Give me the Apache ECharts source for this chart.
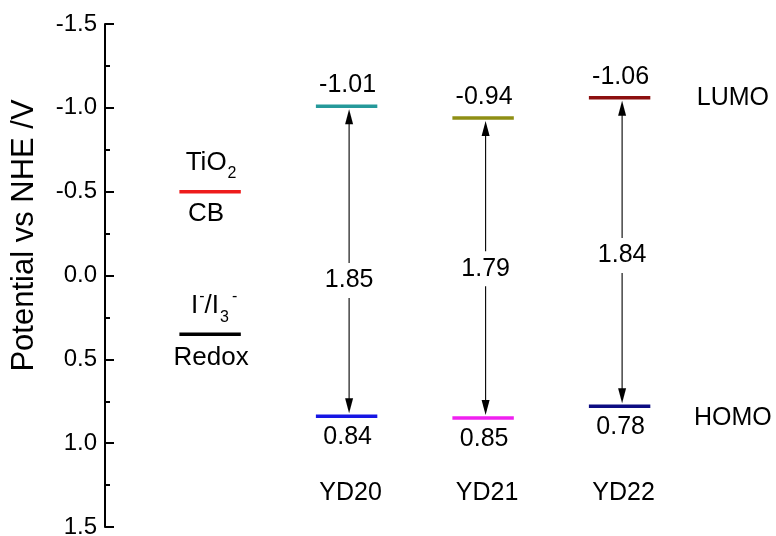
<!DOCTYPE html>
<html>
<head>
<meta charset="utf-8">
<script src="https://cdn.jsdelivr.net/npm/echarts@6/dist/echarts.min.js"></script>
<style>
  html, body { margin: 0; padding: 0; background: #fff; }
  #chart { width: 776px; height: 536px; }
</style>
</head>
<body>
<div id="chart"></div>
<script>
// Energy levels (V vs NHE) of the three dyes
const dyes = ['YD20', 'YD21', 'YD22'];
const lumo = [-1.01, -0.94, -1.06];
const homo = [0.84, 0.85, 0.78];
const gaps = [1.85, 1.79, 1.84];
// Reference levels
const tio2CB = -0.5;
const redox = 0.35;
// Potential axis ticks
const yTicks = [-1.5, -1.0, -0.5, 0.0, 0.5, 1.0, 1.5];

// Styling
const FONT = '"Liberation Sans", Arial, sans-serif';
const lumoColors = ['#25999a', '#8f8f14', '#8c0f0f'];
const homoColors = ['#1616e4', '#f020f0', '#0c0c82'];
const cbColor = '#ee1c1c';
const redoxColor = '#000000';
const HALF = 0.225;            // half length of a level bar, in slot units
const LEVEL_W = 3.5;
// Where each gap value sits along its arrow (potential units)
const gapLabelAt = [0.03, -0.04, -0.12];

const measureCtx = document.createElement('canvas').getContext('2d');
function textWidth(t, size) {
  measureCtx.font = size + 'px ' + FONT;
  return measureCtx.measureText(t).width;
}

// Build a centred run of text with optional sub/superscript pieces
function richRun(parts, cx, cy, base) {
  const small = Math.round(base * 0.6);
  let total = 0;
  const widths = parts.map(p => {
    const w = textWidth(p.t, p.k === 'n' ? base : small) + (p.dx || 0);
    total += w;
    return w;
  });
  let x = cx - total / 2;
  const els = [];
  parts.forEach((p, i) => {
    const size = p.k === 'n' ? base : small;
    let y = cy;
    if (p.k === 'sub') y = cy + base * 0.42;
    if (p.k === 'sup') y = cy - base * 0.38;
    els.push({
      type: 'text',
      x: x + (p.dx || 0), y: y,
      style: { text: p.t, fontSize: size, fontFamily: FONT, fill: '#000',
               align: 'left', verticalAlign: 'middle' }
    });
    x += widths[i];
  });
  return els;
}

function txt(t, x, y, size, extra) {
  return {
    type: 'text', x: x, y: y,
    style: Object.assign({ text: t, fontSize: size, fontFamily: FONT, fill: '#000',
                           align: 'center', verticalAlign: 'middle' }, extra || {})
  };
}

const levelData = [
  { value: [0, tio2CB, 0], itemStyle: { color: cbColor } },
  { value: [0, redox, 0], itemStyle: { color: redoxColor } }
];
dyes.forEach((d, i) => {
  levelData.push({ value: [i + 1, lumo[i], -1], itemStyle: { color: lumoColors[i] } });
  levelData.push({ value: [i + 1, homo[i], 1], itemStyle: { color: homoColors[i] } });
});

const arrowData = dyes.map((d, i) => [i + 1, lumo[i], homo[i], gaps[i], gapLabelAt[i]]);

const chart = echarts.init(document.getElementById('chart'), null, { renderer: 'canvas' });

chart.setOption({
  backgroundColor: '#fff',
  animation: false,
  grid: { left: 105, top: 24, height: 503, width: 682.5, containLabel: false, outerBoundsMode: 'none' },
  xAxis: { type: 'value', min: -0.77, max: 4.23, show: false },
  yAxis: {
    type: 'value',
    inverse: true,
    min: yTicks[0],
    max: yTicks[yTicks.length - 1],
    interval: yTicks[1] - yTicks[0],
    axisLine: { show: true, onZero: false, lineStyle: { color: '#000', width: 2 } },
    axisTick: { show: true, inside: true, length: 9, lineStyle: { color: '#000', width: 2 } },
    minorTick: { show: true, splitNumber: 2, length: 5, lineStyle: { color: '#000', width: 2 } },
    splitLine: { show: false },
    axisLabel: { color: '#000', fontSize: 24, fontFamily: FONT, margin: 8,
                 formatter: v => v.toFixed(1) },
    name: 'Potential vs NHE /V',
    nameLocation: 'middle',
    nameGap: 65,
    nameTextStyle: { color: '#000', fontSize: 31, fontFamily: FONT, padding: [0, 0, 0, 80] }
  },
  series: [
    {
      // horizontal energy levels with their values
      type: 'custom',
      name: 'levels',
      clip: false,
      data: levelData,
      renderItem: function (params, api) {
        const x = api.value(0), y = api.value(1), pos = api.value(2);
        const p1 = api.coord([x - HALF, y]);
        const p2 = api.coord([x + HALF, y]);
        const children = [{
          type: 'line',
          shape: { x1: p1[0], y1: p1[1], x2: p2[0], y2: p2[1] },
          style: { stroke: api.visual('color'), lineWidth: LEVEL_W }
        }];
        if (pos !== 0) {
          const cx = (p1[0] + p2[0]) / 2 + 1;
          children.push(txt(y.toFixed(2), cx, p1[1] + pos * 21, 25));
        }
        return { type: 'group', children: children };
      }
    },
    {
      // double-headed arrows spanning the HOMO-LUMO gap
      type: 'custom',
      name: 'gaps',
      clip: false,
      data: arrowData,
      renderItem: function (params, api) {
        const x = api.value(0);
        const top = api.coord([x, api.value(1)]);
        const bot = api.coord([x, api.value(2)]);
        const mid = api.coord([x, api.value(4)]);
        const ax = top[0] + 2.5;
        const y1 = top[1] + 3, y2 = bot[1] - 3;
        const hl = 15, hw = 4;
        return {
          type: 'group',
          children: [
            { type: 'line', shape: { x1: ax, y1: y1 + hl - 1, x2: ax, y2: y2 - hl + 1 },
              style: { stroke: '#000', lineWidth: 1.1 } },
            { type: 'polygon', shape: { points: [[ax, y1], [ax - hw, y1 + hl], [ax + hw, y1 + hl]] },
              style: { fill: '#000' } },
            { type: 'polygon', shape: { points: [[ax, y2], [ax - hw, y2 - hl], [ax + hw, y2 - hl]] },
              style: { fill: '#000' } },
            txt(api.value(3).toFixed(2), ax, mid[1], 25,
                { backgroundColor: '#fff', padding: [5, 2, 5, 2] })
          ]
        };
      }
    },
    {
      // level names and dye names
      type: 'custom',
      name: 'annotations',
      clip: false,
      data: [[0]],
      renderItem: function (params, api) {
        const cb = api.coord([0, tio2CB]);
        const rd = api.coord([0, redox]);
        const els = [];
        richRun([{ t: 'TiO', k: 'n' }, { t: '2', k: 'sub', dx: 1 }], cb[0] + 1, cb[1] - 29, 26)
          .forEach(e => els.push(e));
        els.push(txt('CB', cb[0] - 4, cb[1] + 22, 26));
        richRun([{ t: 'I', k: 'n' }, { t: '-', k: 'sup', dx: 1 }, { t: '/I', k: 'n' },
                 { t: '3', k: 'sub', dx: 1 }, { t: '-', k: 'sup', dx: 3 }], rd[0] + 4, rd[1] - 28, 26)
          .forEach(e => els.push(e));
        els.push(txt('Redox', rd[0] + 1, rd[1] + 24, 26));
        const lumoPos = api.coord([3.83, Math.min.apply(null, lumo)]);
        const homoPos = api.coord([3.83, Math.max.apply(null, homo)]);
        els.push(txt('LUMO', lumoPos[0], lumoPos[1], 25));
        els.push(txt('HOMO', homoPos[0], homoPos[1], 25));
        dyes.forEach((d, i) => {
          const p = api.coord([i + 1, 1.3]);
          els.push(txt(d, p[0] + 4, p[1], 25));
        });
        return { type: 'group', children: els };
      }
    }
  ]
});
</script>
</body>
</html>
